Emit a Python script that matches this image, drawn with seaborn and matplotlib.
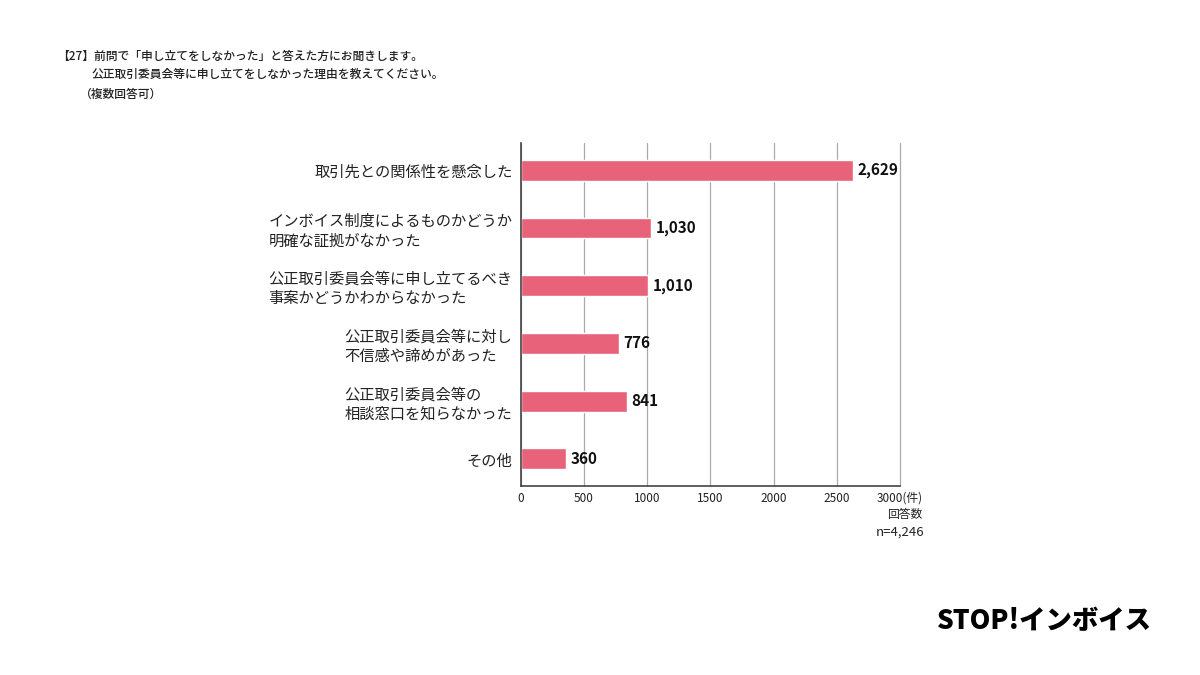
import matplotlib
matplotlib.use("Agg")
import matplotlib.pyplot as plt
import seaborn as sns
import pandas as pd

categories = [
    "取引先との関係性を懸念した",
    "インボイス制度によるものかどうか\n明確な証拠がなかった",
    "公正取引委員会等に申し立てるべき\n事案かどうかわからなかった",
    "公正取引委員会等に対し\n不信感や諦めがあった",
    "公正取引委員会等の\n相談窓口を知らなかった",
    "その他",
]
values = [2629, 1030, 1010, 776, 841, 360]
xticks = [0, 500, 1000, 1500, 2000, 2500, 3000]
xtick_labels = ["0", "500", "1000", "1500", "2000", "2500", "3000(件)"]

sns.set_theme(style="white")
plt.rcParams['font.family'] = ['Noto Sans CJK JP', 'DejaVu Sans']

df = pd.DataFrame({"cat": categories, "val": values})

fig = plt.figure(figsize=(12, 6.75), dpi=100)
ax = fig.add_axes([0.434, 0.28, 0.316, 0.508])

sns.barplot(data=df, x="val", y="cat", orient="h", color="#E8637A",
            width=0.36, ax=ax, saturation=1)

ax.set_xlim(0, 3000)
ax.set_ylim(5.47, -0.47)
ax.set_xticks(xticks)
ax.set_xticklabels(xtick_labels, fontsize=8.5, color="#222222")
ax.set_xlabel("")
ax.set_ylabel("")
ax.tick_params(axis='x', length=0, pad=4)
ax.tick_params(axis='y', length=0, pad=6)
for lbl in ax.get_yticklabels():
    lbl.set_fontsize(11)
    lbl.set_multialignment('left')
    lbl.set_color("#222222")

ax.grid(axis='x', color="#aaaaaa", linewidth=0.9)
for gl in ax.get_xgridlines():
    gl.set_clip_on(False)
ax.set_axisbelow(True)
for s in ["top", "right"]:
    ax.spines[s].set_visible(False)
ax.spines["left"].set_color("#444444")
ax.spines["left"].set_linewidth(1.2)
ax.spines["bottom"].set_color("#444444")
ax.spines["bottom"].set_linewidth(1.2)

for i, v in enumerate(values):
    ax.text(v + 35, i, f"{v:,}", va="center", ha="left", fontsize=11,
            fontweight="bold", color="#111111")

fig.text(0.7542, 0.248, "回答数", fontsize=8.5, ha="center", va="top", color="#222222")
fig.text(0.770, 0.222, "n=4,246", fontsize=9.5, ha="right", va="top", color="#222222")

fig.text(0.048, 0.917, "【27】前問で「申し立てをしなかった」と答えた方にお聞きします。",
         fontsize=8.5, va="center", ha="left", color="#222222", fontweight="medium")
fig.text(0.0765, 0.889, "公正取引委員会等に申し立てをしなかった理由を教えてください。",
         fontsize=8.5, va="center", ha="left", color="#222222", fontweight="medium")
fig.text(0.067, 0.860, "（複数回答可）",
         fontsize=8.5, va="center", ha="left", color="#222222", fontweight="medium")

fig.text(0.960, 0.080, "STOP!インボイス", fontsize=19, fontweight="black",
         ha="right", va="center", color="#000000")

fig.savefig("out.png", dpi=100)
